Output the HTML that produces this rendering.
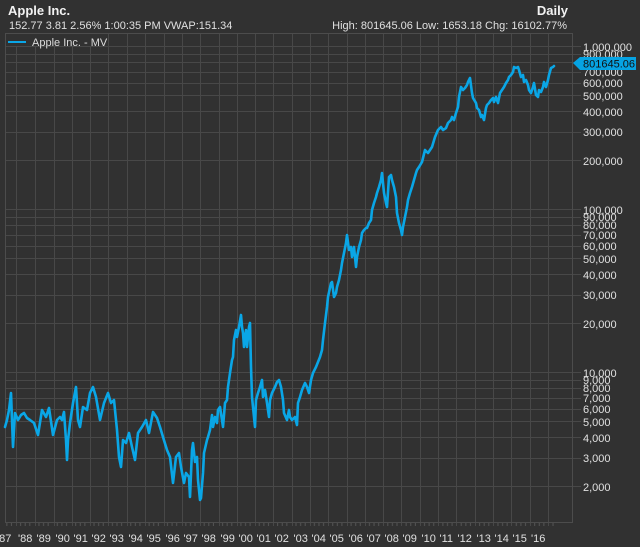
<!DOCTYPE html>
<html><head><meta charset="utf-8"><style>
html,body{margin:0;padding:0;background:#313131;}
svg{display:block;}
text{font-family:"Liberation Sans",Arial,sans-serif;}
</style></head><body>
<svg width="640" height="547" viewBox="0 0 640 547" xmlns="http://www.w3.org/2000/svg">
<defs>
<pattern id="mt" patternUnits="userSpaceOnUse" x="16" y="0" width="18.36" height="547">
<rect x="4.1" y="522" width="1" height="4" fill="#555"/>
<rect x="8.7" y="522" width="1" height="4" fill="#555"/>
<rect x="13.3" y="522" width="1" height="4" fill="#555"/>
</pattern>
</defs>
<rect x="0" y="0" width="640" height="547" fill="#313131"/>
<!-- header -->
<text x="8" y="15" font-size="13" font-weight="bold" fill="#f2f2f2">Apple Inc.</text>
<text x="9" y="29" font-size="11" fill="#e0e0e0">152.77 3.81 2.56% 1:00:35 PM VWAP:151.34</text>
<text x="568" y="15" font-size="13" font-weight="bold" fill="#f2f2f2" text-anchor="end">Daily</text>
<text x="567" y="29" font-size="11" fill="#e0e0e0" text-anchor="end">High: 801645.06 Low: 1653.18 Chg: 16102.77%</text>

<!-- horizontal grid -->
<g stroke="#484848" stroke-width="1" shape-rendering="crispEdges">
<line x1="5" x2="581" y1="46.5" y2="46.5"/>
<line x1="5" x2="581" y1="54.5" y2="54.5"/>
<line x1="5" x2="581" y1="62.5" y2="62.5"/>
<line x1="5" x2="581" y1="72.5" y2="72.5"/>
<line x1="5" x2="581" y1="83.5" y2="83.5"/>
<line x1="5" x2="581" y1="95.5" y2="95.5"/>
<line x1="5" x2="581" y1="111.5" y2="111.5"/>
<line x1="5" x2="581" y1="132.5" y2="132.5"/>
<line x1="5" x2="581" y1="160.5" y2="160.5"/>
<line x1="5" x2="581" y1="209.5" y2="209.5"/>
<line x1="5" x2="581" y1="217.5" y2="217.5"/>
<line x1="5" x2="581" y1="225.5" y2="225.5"/>
<line x1="5" x2="581" y1="235.5" y2="235.5"/>
<line x1="5" x2="581" y1="246.5" y2="246.5"/>
<line x1="5" x2="581" y1="258.5" y2="258.5"/>
<line x1="5" x2="581" y1="274.5" y2="274.5"/>
<line x1="5" x2="581" y1="295.5" y2="295.5"/>
<line x1="5" x2="581" y1="323.5" y2="323.5"/>
<line x1="5" x2="581" y1="372.5" y2="372.5"/>
<line x1="5" x2="581" y1="380.5" y2="380.5"/>
<line x1="5" x2="581" y1="388.5" y2="388.5"/>
<line x1="5" x2="581" y1="398.5" y2="398.5"/>
<line x1="5" x2="581" y1="409.5" y2="409.5"/>
<line x1="5" x2="581" y1="421.5" y2="421.5"/>
<line x1="5" x2="581" y1="437.5" y2="437.5"/>
<line x1="5" x2="581" y1="458.5" y2="458.5"/>
<line x1="5" x2="581" y1="486.5" y2="486.5"/>
</g>
<!-- vertical grid -->
<g stroke="#484848" stroke-width="1" shape-rendering="crispEdges">
<line y1="33" y2="526" x1="16.5" x2="16.5"/>
<line y1="33" y2="526" x1="35.5" x2="35.5"/>
<line y1="33" y2="526" x1="54.5" x2="54.5"/>
<line y1="33" y2="526" x1="72.5" x2="72.5"/>
<line y1="33" y2="526" x1="90.5" x2="90.5"/>
<line y1="33" y2="526" x1="108.5" x2="108.5"/>
<line y1="33" y2="526" x1="127.5" x2="127.5"/>
<line y1="33" y2="526" x1="145.5" x2="145.5"/>
<line y1="33" y2="526" x1="164.5" x2="164.5"/>
<line y1="33" y2="526" x1="182.5" x2="182.5"/>
<line y1="33" y2="526" x1="200.5" x2="200.5"/>
<line y1="33" y2="526" x1="219.5" x2="219.5"/>
<line y1="33" y2="526" x1="237.5" x2="237.5"/>
<line y1="33" y2="526" x1="255.5" x2="255.5"/>
<line y1="33" y2="526" x1="273.5" x2="273.5"/>
<line y1="33" y2="526" x1="292.5" x2="292.5"/>
<line y1="33" y2="526" x1="310.5" x2="310.5"/>
<line y1="33" y2="526" x1="328.5" x2="328.5"/>
<line y1="33" y2="526" x1="347.5" x2="347.5"/>
<line y1="33" y2="526" x1="365.5" x2="365.5"/>
<line y1="33" y2="526" x1="383.5" x2="383.5"/>
<line y1="33" y2="526" x1="401.5" x2="401.5"/>
<line y1="33" y2="526" x1="420.5" x2="420.5"/>
<line y1="33" y2="526" x1="438.5" x2="438.5"/>
<line y1="33" y2="526" x1="456.5" x2="456.5"/>
<line y1="33" y2="526" x1="475.5" x2="475.5"/>
<line y1="33" y2="526" x1="493.5" x2="493.5"/>
<line y1="33" y2="526" x1="511.5" x2="511.5"/>
<line y1="33" y2="526" x1="530.5" x2="530.5"/>
<line y1="33" y2="526" x1="548.5" x2="548.5"/>
</g>
<!-- minor ticks -->
<rect x="5" y="522" width="549" height="5" fill="url(#mt)"/>
<!-- plot border -->
<rect x="5.5" y="33.5" width="567" height="489" fill="none" stroke="#4c4c4c" stroke-width="1" shape-rendering="crispEdges"/>

<!-- legend -->
<rect x="6" y="34" width="101" height="12" fill="#313131"/>
<line x1="8" y1="42" x2="26" y2="42" stroke="#0aa6e6" stroke-width="2"/>
<text x="32" y="46" font-size="11" fill="#dcdcdc">Apple Inc. - MV</text>

<!-- series -->
<polyline fill="none" stroke="#0aa6e6" stroke-width="2.6" stroke-linejoin="round" stroke-linecap="round" points="
5,427 7,420 9,410 11,393 13,447 15,413 18,420 21,415 24,413 27,418 30,420 34,423 38,435 42,410 46,417 49,408 53,435 57,420 60,417 62,420 64,412 66,440 67,460 68,440 70,423 73,403 76,387 78,420 80,427 83,407 87,410 90,393 93,387 96,397 100,420 104,403 108,393 111,403 114,400 117,430 119,457 121,467 123,440 126,443 129,433 132,447 135,460 138,433 142,427 146,420 149,433 153,412 157,418 160,427 163,437 167,450 170,457 173,483 176,457 179,453 181,467 184,483 186,473 189,477 190,497 192,450 193,443 195,462 197,457 198,480 200,500 201,498 203,473 204,453 207,440 208,437 210,430 212,415 213,427 215,417 217,423 218,410 220,407 222,420 223,427 225,403 227,400 228,387 230,373 232,360 233,357 234,340 236,330 237,337 239,327 241,315 242,327 243,333 244,347 246,330 247,347 249,327 250,323 251,367 252,397 253,407 255,427 256,400 258,393 260,387 262,380 263,397 265,390 267,403 269,417 270,400 272,393 275,387 277,382 279,380 281,387 283,400 284,413 287,420 289,410 290,417 292,420 295,417 297,425 298,403 300,397 302,390 305,383 307,387 309,393 311,380 313,373 316,367 318,362 320,357 322,350 323,340 325,323 327,307 328,297 331,283 332,282 334,297 336,293 337,287 339,280 341,270 342,263 344,253 346,243 347,235 349,250 351,247 352,257 354,247 356,267 357,257 359,247 361,240 362,233 364,230 366,228 367,228 369,223 371,220 372,210 374,203 376,197 377,193 379,187 381,180 382,173 383,183 384,193 386,203 387,207 389,177 391,175 392,180 394,187 396,197 397,213 399,223 401,230 402,235 403,227 405,217 407,207 408,200 410,193 412,187 414,180 416,173 417,170 419,167 422,162 425,150 428,153 432,147 435,137 438,130 441,127 443,130 446,128 448,123 451,120 452,117 454,120 456,113 458,107 459,97 461,87 463,90 465,88 467,85 468,82 470,78 472,93 473,98 476,103 477,108 479,110 481,117 482,115 484,120 486,108 487,105 489,103 491,100 493,98 494,102 496,97 498,103 500,93 502,90 504,87 506,83 508,80 509,77 511,75 513,72 514,67 516,68 518,67 519,70 521,77 523,75 524,82 526,80 528,85 529,90 531,93 533,87 534,83 536,95 538,97 539,90 541,92 543,87 544,82 546,87 548,80 549,75 551,68 553,67 554,66"/>

<!-- y axis labels -->
<g font-size="11" fill="#e0e0e0">
<text x="583" y="51">1,000,000</text>
<text x="583" y="58">900,000</text>
<text x="583" y="76">700,000</text>
<text x="583" y="87">600,000</text>
<text x="583" y="100">500,000</text>
<text x="583" y="116">400,000</text>
<text x="583" y="136">300,000</text>
<text x="583" y="165">200,000</text>
<text x="583" y="214">100,000</text>
<text x="583" y="221">90,000</text>
<text x="583" y="229">80,000</text>
<text x="583" y="239">70,000</text>
<text x="583" y="250">60,000</text>
<text x="583" y="263">50,000</text>
<text x="583" y="279">40,000</text>
<text x="583" y="299">30,000</text>
<text x="583" y="328">20,000</text>
<text x="583" y="377">10,000</text>
<text x="583" y="384">9,000</text>
<text x="583" y="392">8,000</text>
<text x="583" y="402">7,000</text>
<text x="583" y="413">6,000</text>
<text x="583" y="426">5,000</text>
<text x="583" y="442">4,000</text>
<text x="583" y="462">3,000</text>
<text x="583" y="491">2,000</text>
</g>
<!-- value badge -->
<polygon points="573,63 580,57 636,57 636,70 580,70" fill="#06a3e3"/>
<text x="583" y="67.5" font-size="11" fill="#111">801645.06</text>

<!-- x axis labels -->
<g font-size="11" fill="#e0e0e0">
<text x="-3" y="542">'87</text>
<text x="18" y="542">'88</text>
<text x="36.5" y="542">'89</text>
<text x="55.5" y="542">'90</text>
<text x="73.5" y="542">'91</text>
<text x="91.5" y="542">'92</text>
<text x="109.5" y="542">'93</text>
<text x="128.5" y="542">'94</text>
<text x="146.5" y="542">'95</text>
<text x="165.5" y="542">'96</text>
<text x="183.5" y="542">'97</text>
<text x="201.5" y="542">'98</text>
<text x="220.5" y="542">'99</text>
<text x="238.5" y="542">'00</text>
<text x="256.5" y="542">'01</text>
<text x="274.5" y="542">'02</text>
<text x="293.5" y="542">'03</text>
<text x="311.5" y="542">'04</text>
<text x="329.5" y="542">'05</text>
<text x="348.5" y="542">'06</text>
<text x="366.5" y="542">'07</text>
<text x="384.5" y="542">'08</text>
<text x="402.5" y="542">'09</text>
<text x="421.5" y="542">'10</text>
<text x="439.5" y="542">'11</text>
<text x="457.5" y="542">'12</text>
<text x="476.5" y="542">'13</text>
<text x="494.5" y="542">'14</text>
<text x="512.5" y="542">'15</text>
<text x="531" y="542">'16</text>
</g>
</svg>
</body></html>
